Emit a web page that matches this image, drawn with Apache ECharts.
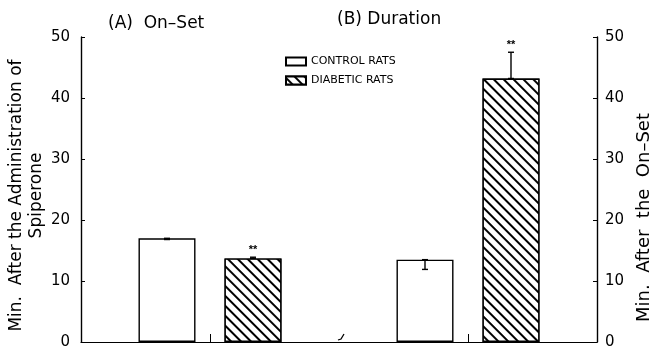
<!DOCTYPE html>
<html>
<head>
<meta charset="utf-8">
<script src="https://cdn.jsdelivr.net/npm/echarts@6/dist/echarts.min.js"></script>
<style>
  html, body { margin: 0; padding: 0; background: #fff; }
  #chart { width: 658px; height: 347px; }
</style>
</head>
<body>
<div id="chart"></div>
<script>
  // bar positions on the x scale: (A) On-Set at 1,2 and (B) Duration at 4,5
  const controlX = [1, 4]
  const diabeticX = [2, 5]
  const controlValues = [17.0, 13.5]
  const diabeticValues = [13.7, 43.2]
  // error bars [low, high]
  const controlErr = [[16.8, 17.0], [11.9, 13.5]]
  const diabeticErr = [[13.7, 13.9], [43.2, 47.5]]
  const groupTicks = [1.5, 4.5]
  const breakAt = [3]
  const panelTitles = ['(A)  On\u2013Set', '(B) Duration']

  const font = 'DejaVu Sans'
  const chart = echarts.init(document.getElementById('chart'))

  // "\\\" hatching for the diabetic bars
  const hatch = {
    symbol: 'rect',
    symbolSize: 1,
    color: '#000',
    backgroundColor: '#fff',
    dashArrayX: [1, 0],
    dashArrayY: [1.1, 5],
    rotation: Math.PI / 4
  }

  function errSeries(xs, errs) {
    return {
      type: 'custom',
      silent: true,
      z: 5,
      data: xs.map((x, i) => [x, errs[i][0], errs[i][1]]),
      renderItem(params, api) {
        const lo = api.coord([api.value(0), api.value(1)])
        const hi = api.coord([api.value(0), api.value(2)])
        const w = 3
        const st = { stroke: '#000', lineWidth: 1.4 }
        return {
          type: 'group',
          children: [
            { type: 'line', shape: { x1: lo[0], y1: lo[1], x2: hi[0], y2: hi[1] }, style: st },
            { type: 'line', shape: { x1: hi[0] - w, y1: hi[1], x2: hi[0] + w, y2: hi[1] }, style: st },
            { type: 'line', shape: { x1: lo[0] - w, y1: lo[1], x2: lo[0] + w, y2: lo[1] }, style: st }
          ]
        }
      }
    }
  }

  const titleStyle = { fontFamily: font, fontSize: 17, fontWeight: 'normal', color: '#000' }

  const option = {
    backgroundColor: '#fff',
    animation: false,
    textStyle: { fontFamily: font, color: '#000' },
    title: [
      { text: panelTitles[0], left: 103, top: 10, textStyle: titleStyle },
      { text: panelTitles[1], left: 332, top: 6, textStyle: titleStyle }
    ],
    legend: {
      orient: 'vertical',
      left: 280,
      top: 51,
      itemWidth: 20,
      itemHeight: 8,
      itemGap: 8,
      icon: 'rect',
      textStyle: { fontFamily: font, fontSize: 11, color: '#000' },
      data: ['CONTROL RATS', 'DIABETIC RATS']
    },
    grid: { left: 81, right: 61, top: 37, bottom: 5, outerBoundsMode: 'none' },
    xAxis: {
      type: 'value',
      min: 0,
      max: 6,
      axisLine: { show: true, lineStyle: { color: '#000', width: 1.2 } },
      axisTick: { show: true, inside: true, length: 8, customValues: groupTicks, lineStyle: { color: '#000' } },
      axisLabel: { show: false },
      splitLine: { show: false }
    },
    yAxis: [
      {
        type: 'value',
        min: 0,
        max: 50,
        interval: 10,
        position: 'left',
        name: 'Min.  After the Administration of\nSpiperone',
        nameLocation: 'middle',
        nameRotate: 90,
        nameGap: 34,
        nameMoveOverlap: false,
        nameTextStyle: { fontFamily: font, fontSize: 17, color: '#000', lineHeight: 20, padding: [0, 12, 0, 0] },
        axisLine: { show: true, lineStyle: { color: '#000', width: 1.4 } },
        axisTick: { show: true, inside: true, length: 4, lineStyle: { color: '#000' } },
        axisLabel: { fontFamily: font, fontSize: 15, color: '#000', margin: 11 },
        splitLine: { show: false }
      },
      {
        type: 'value',
        min: 0,
        max: 50,
        interval: 10,
        position: 'right',
        name: 'Min.  After  the  On\u2013Set',
        nameLocation: 'middle',
        nameRotate: 90,
        nameGap: 38,
        nameTextStyle: { fontFamily: font, fontSize: 18, color: '#000', padding: [0, 56, 0, 0] },
        axisLine: { show: true, lineStyle: { color: '#000', width: 1.4 } },
        axisTick: { show: true, inside: true, length: 4, lineStyle: { color: '#000' } },
        axisLabel: { fontFamily: font, fontSize: 15, color: '#000', margin: 8 },
        splitLine: { show: false }
      }
    ],
    series: [
      {
        name: 'CONTROL RATS',
        type: 'bar',
        barWidth: 57,
        barGap: '-100%',
        itemStyle: { color: '#fff', borderColor: '#000', borderWidth: 1.4 },
        data: controlX.map((x, i) => [x, controlValues[i]])
      },
      {
        name: 'DIABETIC RATS',
        type: 'bar',
        barWidth: 57,
        barGap: '-100%',
        itemStyle: { color: '#fff', borderColor: '#000', borderWidth: 1.4, decal: hatch },
        data: diabeticX.map((x, i) => [x, diabeticValues[i]])
      },
      errSeries(controlX, controlErr),
      errSeries(diabeticX, diabeticErr),
      {
        // significance stars above the diabetic bars
        type: 'custom',
        silent: true,
        data: diabeticX.map((x, i) => [x, diabeticErr[i][1]]),
        renderItem(params, api) {
          const p = api.coord([api.value(0), api.value(1)])
          return {
            type: 'text',
            style: { x: p[0], y: p[1] - 2, text: '**', fontSize: 11, fontWeight: 'bold', fontFamily: 'Liberation Sans', align: 'center', verticalAlign: 'bottom', fill: '#000' }
          }
        }
      },
      {
        // small axis-break stroke on the baseline
        type: 'custom',
        silent: true,
        data: breakAt.map(x => [x, 0]),
        renderItem(params, api) {
          const p = api.coord([api.value(0), api.value(1)])
          return {
            type: 'polyline',
            shape: { points: [[p[0] - 1, p[1] - 2], [p[0] + 2, p[1] - 3], [p[0] + 5, p[1] - 8]] },
            style: { stroke: '#000', lineWidth: 1.3, fill: null }
          }
        }
      }
    ]
  }

  chart.setOption(option)
</script>
</body>
</html>
